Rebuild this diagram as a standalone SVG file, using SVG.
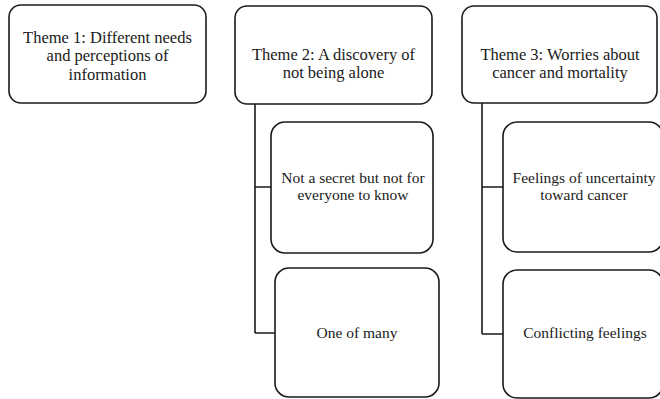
<svg xmlns="http://www.w3.org/2000/svg" width="660" height="399" viewBox="0 0 660 399">
  <style>
    .box { fill: #ffffff; stroke: #1a1a1a; stroke-width: 1.6; }
    .link { fill: none; stroke: #1a1a1a; stroke-width: 1.6; }
    .head { font-family: "Liberation Serif", "Times New Roman", serif; font-size: 16.5px; fill: #1a1a1a; text-anchor: middle; }
    .sub { font-family: "Liberation Serif", "Times New Roman", serif; font-size: 15.5px; fill: #1a1a1a; text-anchor: middle; }
  </style>
  <rect width="660" height="399" fill="#ffffff"/>

  <!-- tree connectors -->
  <g id="connectors">
    <path class="link" d="M255,104 V333 M255,187 H271 M255,333 H275"/>
    <path class="link" d="M482,103 V334 M482,187 H503 M482,334 H503"/>
  </g>

  <g id="theme1">
    <rect class="box" x="9" y="5" width="197" height="98" rx="12"/>
    <text class="head" x="107.5" y="42.5">Theme 1: Different needs</text>
    <text class="head" x="107.5" y="61">and perceptions of</text>
    <text class="head" x="107.5" y="79.5">information</text>
  </g>

  <g id="theme2">
    <rect class="box" x="235" y="6" width="197" height="98" rx="12"/>
    <text class="head" x="333.5" y="59.7">Theme 2: A discovery of</text>
    <text class="head" x="333.5" y="78.3">not being alone</text>
  </g>

  <g id="theme3">
    <rect class="box" x="462" y="6" width="195" height="97" rx="12"/>
    <text class="head" x="560" y="59.7">Theme 3: Worries about</text>
    <text class="head" x="560" y="78.3">cancer and mortality</text>
  </g>

  <g id="not-a-secret">
    <rect class="box" x="271" y="122" width="162" height="131" rx="14"/>
    <text class="sub" x="353" y="182.7">Not a secret but not for</text>
    <text class="sub" x="353" y="200.3">everyone to know</text>
  </g>

  <g id="one-of-many">
    <rect class="box" x="275" y="268" width="164" height="129" rx="14"/>
    <text class="sub" x="357" y="338">One of many</text>
  </g>

  <g id="uncertainty">
    <rect class="box" x="503" y="122" width="160" height="130" rx="14"/>
    <text class="sub" x="584" y="182.7">Feelings of uncertainty</text>
    <text class="sub" x="584" y="200.3">toward cancer</text>
  </g>

  <g id="conflicting">
    <rect class="box" x="503" y="270" width="160" height="128" rx="14"/>
    <text class="sub" x="585" y="338">Conflicting feelings</text>
  </g>
</svg>
